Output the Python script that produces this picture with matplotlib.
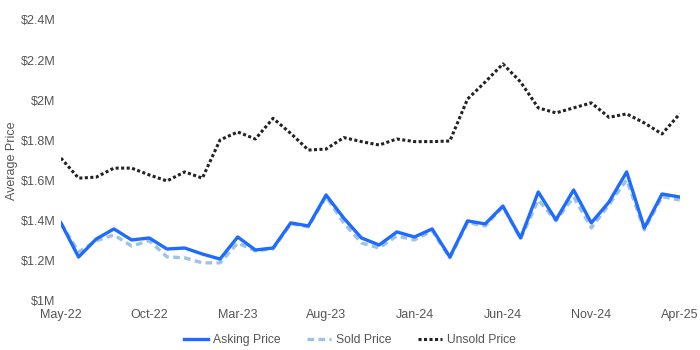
import numpy as np
import matplotlib
matplotlib.use("Agg")
import matplotlib.pyplot as plt
from matplotlib.ticker import FuncFormatter

plt.rcParams['font.family'] = ['Liberation Sans', 'DejaVu Sans']

# monthly averages, May-22 .. Apr-25 (in $M)
months = ["May-22", "Jun-22", "Jul-22", "Aug-22", "Sep-22", "Oct-22", "Nov-22", "Dec-22",
          "Jan-23", "Feb-23", "Mar-23", "Apr-23", "May-23", "Jun-23", "Jul-23", "Aug-23",
          "Sep-23", "Oct-23", "Nov-23", "Dec-23", "Jan-24", "Feb-24", "Mar-24", "Apr-24",
          "May-24", "Jun-24", "Jul-24", "Aug-24", "Sep-24", "Oct-24", "Nov-24", "Dec-24",
          "Jan-25", "Feb-25", "Mar-25", "Apr-25"]

asking = [1.389, 1.219, 1.309, 1.359, 1.304, 1.314, 1.259, 1.264, 1.234, 1.209, 1.319, 1.254,
          1.264, 1.389, 1.374, 1.528, 1.413, 1.314, 1.279, 1.344, 1.319, 1.359, 1.219, 1.399,
          1.384, 1.473, 1.314, 1.543, 1.404, 1.553, 1.389, 1.493, 1.643, 1.364, 1.533, 1.518]

sold = [1.389, 1.244, 1.300, 1.329, 1.274, 1.300, 1.220, 1.215, 1.190, 1.190, 1.289, 1.250,
        1.260, 1.385, 1.370, 1.520, 1.389, 1.289, 1.264, 1.324, 1.304, 1.350, 1.215, 1.390,
        1.374, 1.470, 1.310, 1.503, 1.400, 1.518, 1.364, 1.480, 1.603, 1.354, 1.520, 1.503]

unsold = [1.712, 1.612, 1.617, 1.662, 1.662, 1.628, 1.598, 1.643, 1.612, 1.802, 1.842, 1.807,
          1.910, 1.835, 1.752, 1.757, 1.814, 1.794, 1.777, 1.807, 1.794, 1.794, 1.797, 2.006,
          2.091, 2.181, 2.091, 1.962, 1.937, 1.962, 1.987, 1.915, 1.932, 1.887, 1.832, 1.932]

x = np.arange(len(months))

fig = plt.figure(figsize=(7, 3.5), dpi=100)
ax = fig.add_axes([0.087, 0.14, 0.884, 0.803])

ax.plot(x, asking, color='#1f6bff', lw=2.4, label='Asking Price', zorder=3)
ax.plot(x, sold, color='#9cc3e6', lw=2.4, dashes=(2, 1.3), label='Sold Price', zorder=2)
ax.plot(x, unsold, color='#222222', lw=2.2, dashes=(1, 0.8), label='Unsold Price', zorder=2)

ax.set_xlim(0, len(months) - 1)
ax.set_ylim(1.0, 2.4)
ax.set_xticks(x[::5])
ax.set_xticklabels(months[::5])
ax.set_yticks(np.arange(1.0, 2.41, 0.2))
ax.yaxis.set_major_formatter(FuncFormatter(lambda v, p: "$%gM" % round(v, 1)))

for s in ax.spines.values():
    s.set_visible(False)
ax.tick_params(length=0, labelsize=9, colors='#555555')
ax.tick_params(axis='x', pad=6)
ax.tick_params(axis='y', pad=4)
ax.set_ylabel("Average Price", fontsize=9, color='#555555')
ax.yaxis.set_label_coords(-0.069, 0.5)

fig.legend(*ax.get_legend_handles_labels(), loc='center', bbox_to_anchor=(0.5, 0.028),
           ncol=3, frameon=False, fontsize=8.7, handlelength=2.0, handletextpad=0.4,
           columnspacing=2.2, labelcolor='#555555')

fig.savefig("out.png", dpi=100)
